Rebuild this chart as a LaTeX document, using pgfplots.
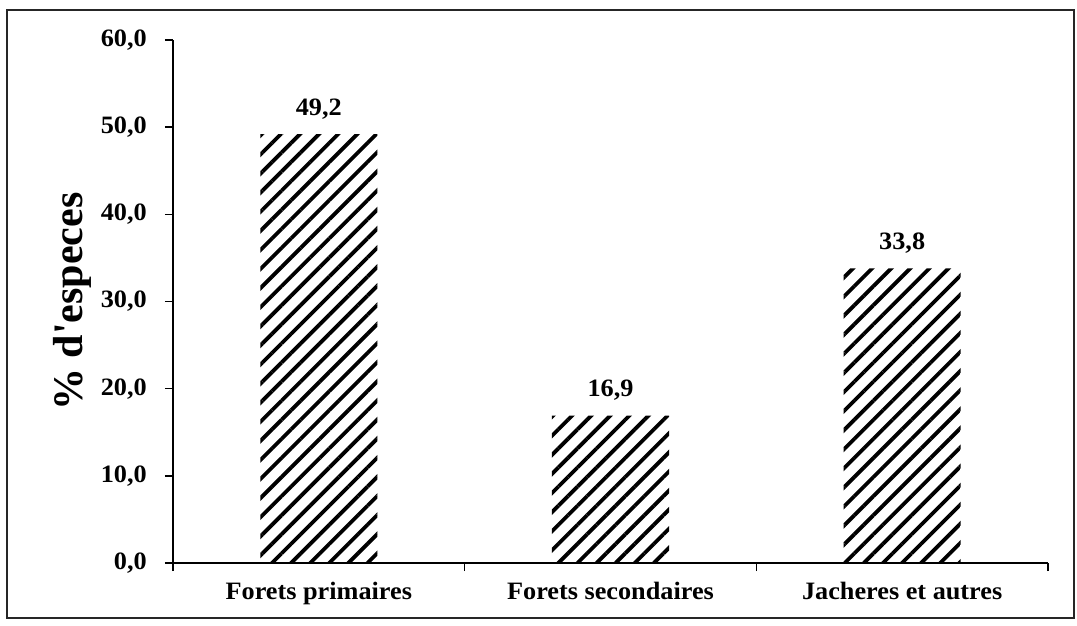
\documentclass[border=0pt]{standalone}
\usepackage{fontspec}
\setmainfont{Liberation Serif}[FakeStretch=1.05]
\newfontfamily\ylabfont{Liberation Serif}
\usepackage{pgfplots}
\pgfplotsset{compat=1.18}
\usetikzlibrary{patterns.meta}
\begin{document}
\begin{tikzpicture}
\path[use as bounding box] (-173pt,-62pt) rectangle (904pt,563pt);
\draw[line width=2pt, black!85] (-166pt,-55pt) rectangle (901pt,553pt);
\begin{axis}[
  at={(0pt,0pt)}, anchor=south west,
  scale only axis, width=875pt, height=523pt,
  xmin=0, xmax=3, ymin=0, ymax=60,
  axis x line*=bottom, axis y line*=left,
  axis line style={line width=2pt, -},
  xtick={0,1,2,3}, xticklabels={},
  extra x ticks={0.5,1.5,2.5},
  extra x tick labels={Forets primaires, Forets secondaires, Jacheres et autres},
  extra x tick style={major tick length=0pt, xticklabel style={inner sep=0pt, anchor=north, yshift=-19pt}},
  ytick={0,10,20,30,40,50,60},
  tick align=outside,
  major tick length=8pt,
  tick style={line width=1.5pt, black},
  /pgf/number format/.cd, fixed, fixed zerofill, precision=1, use comma, assume math mode=true,
  /pgfplots/.cd,
  ticklabel style={font=\fontsize{25}{29}\selectfont\bfseries},
  yticklabel style={inner sep=0pt, anchor=east, xshift=-18pt},
  ylabel={\% d'especes},
  ylabel style={font=\ylabfont\fontsize{42}{46}\selectfont\bfseries, at={(axis description cs:-0.1154,0.5)}, anchor=center},
  ybar, bar width=117pt,
  nodes near coords,
  nodes near coords style={font=\fontsize{25}{29}\selectfont\bfseries, inner sep=0pt, anchor=south, yshift=15pt},
  clip=false,
]
\addplot[draw=none, pattern={Lines[angle=45,distance=13.5pt,line width=3.8pt]}] coordinates {(0.5,49.2) (1.5,16.9) (2.5,33.8)};
\end{axis}
\end{tikzpicture}
\end{document}
